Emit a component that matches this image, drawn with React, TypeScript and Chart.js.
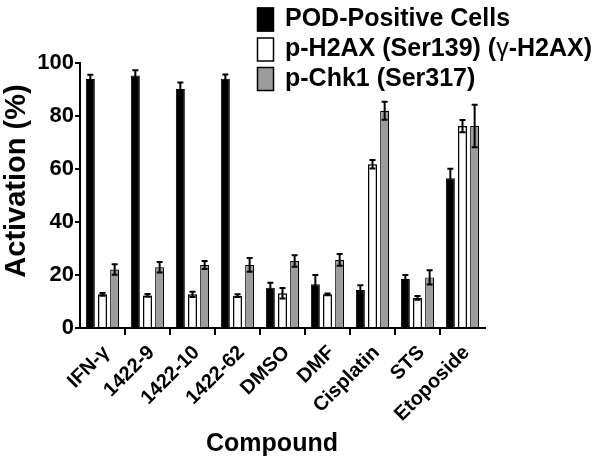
import React, { useEffect, useRef } from "react";
import { Chart, registerables } from "chart.js";

Chart.register(...registerables);

const categories = ["IFN-γ", "1422-9", "1422-10", "1422-62", "DMSO", "DMF", "Cisplatin", "STS", "Etoposide"];
const seriesLabels = ["POD-Positive Cells", "p-H2AX (Ser139) (γ-H2AX)", "p-Chk1 (Ser317)"];
const podValues = [94, 95.3, 90.2, 94.1, 15.2, 16.5, 14.3, 18.5, 56.5];
const podErrors = [1.6, 2, 2.4, 1.6, 1.9, 3.5, 1.8, 1.5, 3.6];
const h2axValues = [12.7, 12.3, 12.7, 12.2, 13.1, 12.7, 61.8, 11.4, 76.2];
const h2axErrors = [0.5, 0.5, 1, 0.5, 2, 0.3, 1.6, 0.7, 2.3];
const chk1Values = [22.1, 22.9, 23.8, 23.8, 25.3, 25.7, 82, 19.1, 76.2];
const chk1Errors = [2, 2, 1.5, 2.6, 2.2, 2.2, 3.4, 2.7, 8];
const yTicks = [0, 20, 40, 60, 80, 100];
const xTitle = "Compound";
const yTitle = "Activation (%)";

const FONT = "'Liberation Sans', Arial, sans-serif";

const errorBarPlugin = {
  id: "errorBars",
  afterDatasetsDraw(chart: any) {
    const ctx = chart.ctx;
    const yScale = chart.scales.y;
    chart.data.datasets.forEach((ds: any, i: number) => {
      const meta = chart.getDatasetMeta(i);
      const errs = ds.errors as number[];
      meta.data.forEach((el: any, j: number) => {
        const v = ds.data[j];
        const e = errs[j];
        const yT = yScale.getPixelForValue(v + e);
        const yB = yScale.getPixelForValue(v - e);
        ctx.save();
        ctx.strokeStyle = "#000";
        ctx.lineWidth = 2;
        ctx.beginPath();
        ctx.moveTo(el.x, yT);
        ctx.lineTo(el.x, yB);
        ctx.moveTo(el.x - 3, yT);
        ctx.lineTo(el.x + 3, yT);
        ctx.moveTo(el.x - 3, yB);
        ctx.lineTo(el.x + 3, yB);
        ctx.stroke();
        ctx.restore();
      });
    });
  },
};

const decorPlugin = {
  id: "decor",
  afterDraw(chart: any) {
    const ctx = chart.ctx;
    ctx.save();
    // legend
    const rows = [19.5, 49.5, 79];
    chart.data.datasets.forEach((ds: any, i: number) => {
      const cy = rows[i];
      ctx.fillStyle = ds.backgroundColor;
      ctx.strokeStyle = "#000";
      ctx.lineWidth = 1.5;
      ctx.fillRect(257, cy - 12, 17, 24);
      ctx.strokeRect(257.5, cy - 11.5, 16, 23);
      ctx.fillStyle = "#000";
      ctx.textBaseline = "middle";
      ctx.textAlign = "left";
      const parts = String(ds.label).split("γ");
      let x = 285;
      parts.forEach((p: string, k: number) => {
        ctx.font = `bold 25px ${FONT}`;
        ctx.fillText(p, x, cy);
        x += ctx.measureText(p).width;
        if (k < parts.length - 1) {
          ctx.font = `25px ${FONT}`;
          ctx.fillText("γ", x, cy);
          x += ctx.measureText("γ").width;
        }
      });
    });
    // axis titles
    ctx.fillStyle = "#000";
    ctx.font = `bold 25px ${FONT}`;
    ctx.textAlign = "center";
    ctx.textBaseline = "middle";
    ctx.fillText(xTitle, 272, 444);
    ctx.translate(17, 181);
    ctx.rotate(-Math.PI / 2);
    ctx.font = `bold 29px ${FONT}`;
    ctx.fillText(yTitle, 0, 0);
    ctx.restore();
  },
};

export default function App() {
  const ref = useRef<HTMLCanvasElement | null>(null);
  useEffect(() => {
    if (!ref.current) return;
    const mk = (label: string, data: number[], errors: number[], bg: string, bw: number) => ({
      label,
      data,
      errors,
      backgroundColor: bg,
      borderColor: "#000",
      borderWidth: bw,
      categoryPercentage: 0.81,
      barPercentage: 0.74,
    });
    const chart = new Chart(ref.current, {
      type: "bar",
      data: {
        labels: categories,
        datasets: [
          mk(seriesLabels[0], podValues, podErrors, "#000000", 1),
          mk(seriesLabels[1], h2axValues, h2axErrors, "#ffffff", 1.5),
          mk(seriesLabels[2], chk1Values, chk1Errors, "#9c9c9c", 1.2),
        ] as any,
      },
      options: {
        animation: false,
        responsive: true,
        maintainAspectRatio: false,
        layout: { padding: { top: 63, right: 115, left: 0, bottom: 0 } },
        plugins: { legend: { display: false }, tooltip: { enabled: false } },
        scales: {
          x: {
            afterFit: (s: any) => {
              s.height = 136;
            },
            border: { display: true, color: "#000", width: 2 },
            grid: {
              offset: true,
              drawOnChartArea: false,
              drawTicks: true,
              tickLength: 7,
              lineWidth: 2,
              color: (c: any) => (c.index === undefined || c.index === 0 ? "rgba(0,0,0,0)" : "#000"),
            },
            ticks: {
              color: "#000",
              autoSkip: false,
              maxRotation: 45,
              minRotation: 45,
              padding: 6,
              labelOffset: 4,
              font: { family: FONT, size: 20, weight: "bold" },
            },
          },
          y: {
            min: 0,
            max: 100,
            afterFit: (s: any) => {
              s.width = 80;
            },
            afterBuildTicks: (s: any) => {
              s.ticks = yTicks.map((v) => ({ value: v }));
            },
            border: { display: true, color: "#000", width: 2 },
            grid: {
              drawOnChartArea: false,
              drawTicks: true,
              tickLength: 5,
              lineWidth: 2,
              color: "#000",
            },
            ticks: {
              color: "#000",
              padding: 1,
              font: { family: FONT, size: 22, weight: "bold" },
            },
          },
        },
      },
      plugins: [errorBarPlugin, decorPlugin],
    });
    return () => chart.destroy();
  }, []);
  return (
    <div style={{ position: "fixed", left: 0, top: 0, width: 600, height: 464, background: "#fff" }}>
      <canvas ref={ref} />
    </div>
  );
}
